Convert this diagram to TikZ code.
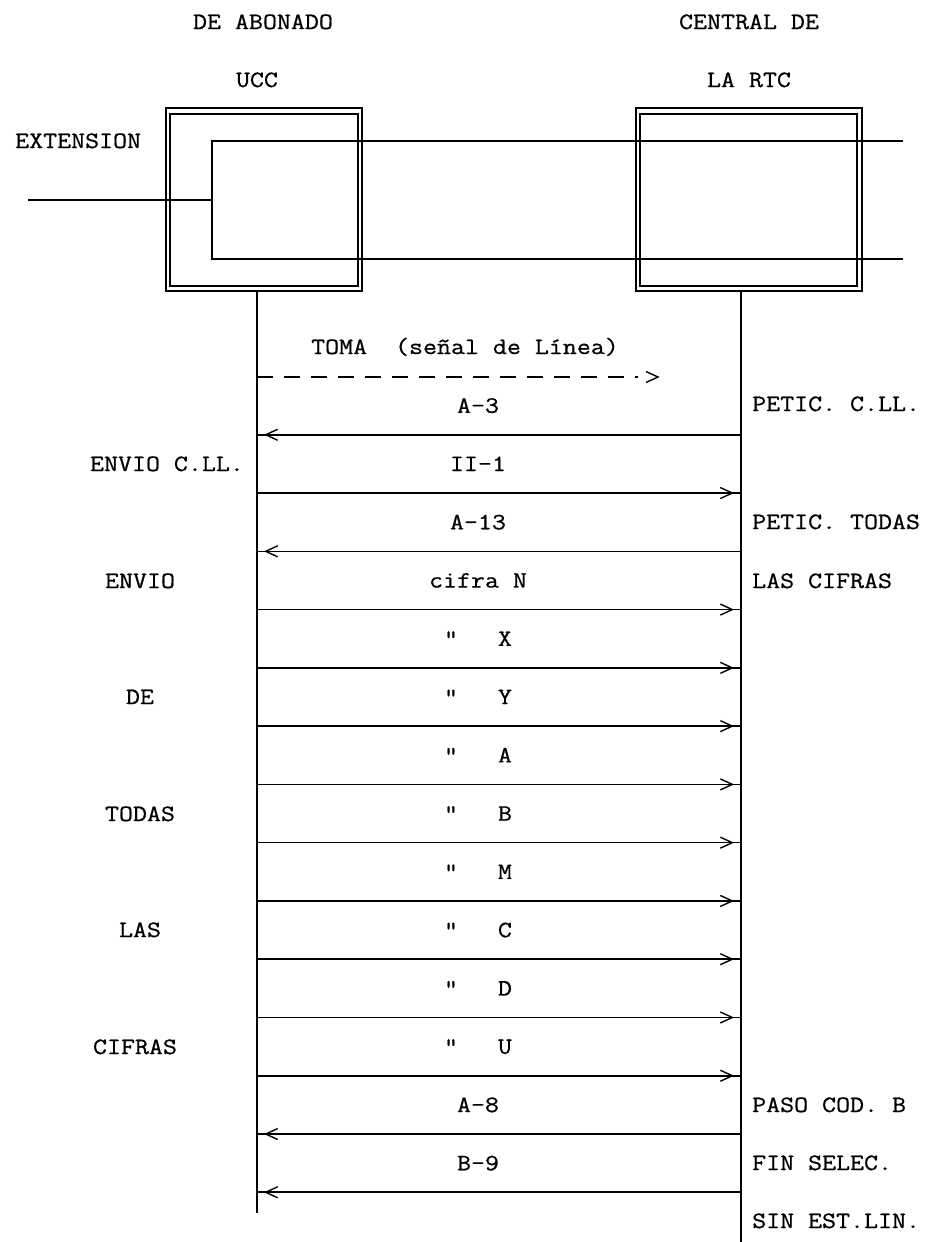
\documentclass[tikz,border=0pt]{standalone}
\usepackage{fontspec}
\setmonofont{Latin Modern Mono}[FakeStretch=1.16,FakeBold=0.7]
\usetikzlibrary{arrows.meta,decorations.markings}
\begin{document}
\begin{tikzpicture}[x=1bp,y=-1bp,
  font=\ttfamily\fontsize{23.5}{28}\selectfont,
  lbl/.style={inner sep=0pt, anchor=base},
  lbll/.style={inner sep=0pt, anchor=base west},
  boxline/.style={draw, line width=1.6bp, inner sep=0pt},
  life/.style={line width=2.2bp},
  wire/.style={line width=1.4bp},
  msg/.style={line width=1.6bp},
  arr/.style={msg, postaction={decorate},
    decoration={markings, mark=at position -7bp with {\arrow{Straight Barb[length=12bp,width=11bp,line width=1.4bp]}}}},
]
\useasboundingbox (0,0) rectangle (928,1242);

% headers
\node[lbl] (h1) at (263,29) {DE ABONADO};
\node[lbl] (h2) at (257,87) {UCC};
\node[lbl] (h3) at (749,29) {CENTRAL DE};
\node[lbl] (h4) at (749,87) {LA RTC};
\node[lbll] (ext) at (15,148) {EXTENSION};

% exchange boxes (double frame)
\node[boxline, minimum width=196bp, minimum height=183bp] (uccO) at (264,199.5) {};
\node[boxline, minimum width=188bp, minimum height=172bp] (uccI) at (264,200) {};
\node[boxline, minimum width=226bp, minimum height=183bp] (rtcO) at (749,199.5) {};
\node[boxline, minimum width=217bp, minimum height=172bp] (rtcI) at (748.5,200) {};

% through-connection wires
\coordinate (wA) at (28,200);
\coordinate (wB) at (212,200);
\coordinate (wT1) at (903,141);
\coordinate (wT2) at (212,141);
\coordinate (wB1) at (212,259);
\coordinate (wB2) at (903,259);
\draw[wire] (wA) -- (wB);
\draw[wire] (wT1) -- (wT2) -- (wB1) -- (wB2);

% lifelines
\coordinate (Ltop) at (257,291);
\coordinate (Lbot) at (257,1213);
\coordinate (Rtop) at (741,291);
\coordinate (Rbot) at (741,1242);
\draw[life] (Ltop) -- (Lbot);
\draw[life] (Rtop) -- (Rbot);

% TOMA (dashed)
\node[lbl] (toma) at (465,354) {TOMA\ \ (señal de Línea)};
\coordinate (L0) at (257,377);
\coordinate (T0) at (638,377);
\draw[msg, dash pattern=on 16bp off 11bp] (L0) -- (T0);
\coordinate (c1) at (646,371.5);
\coordinate (c2) at (658,377);
\coordinate (c3) at (646,382.5);
\draw[line width=1.4bp] (c1) -- (c2) -- (c3);

% message rows
\foreach \k/\txt/\dir in {1/A-3/l, 2/II-1/r, 3/A-13/l, 4/cifra N/r,
  5/{\textquotedbl\ \ \ X}/r, 6/{\textquotedbl\ \ \ Y}/r, 7/{\textquotedbl\ \ \ A}/r, 8/{\textquotedbl\ \ \ B}/r,
  9/{\textquotedbl\ \ \ M}/r, 10/{\textquotedbl\ \ \ C}/r, 11/{\textquotedbl\ \ \ D}/r, 12/{\textquotedbl\ \ \ U}/r,
  13/A-8/l, 14/B-9/l}{
  \pgfmathsetmacro{\ly}{346+58.27*\k}
  \pgfmathsetmacro{\my}{\ly+30.5}
  \coordinate (L\k) at (257,\my);
  \coordinate (R\k) at (741,\my);
  \node[lbl] (m\k) at (478,\ly+8.5) {\txt};
  \if\dir r
    \draw[arr] (L\k) -- (R\k);
  \else
    \draw[arr] (R\k) -- (L\k);
  \fi
}

% left-side labels
\node[lbl] (e1) at (167,471) {ENVIO C.LL.};
\node[lbl] (e2) at (140,588) {ENVIO};
\node[lbl] (e3) at (140,704) {DE};
\node[lbl] (e4) at (140,821) {TODAS};
\node[lbl] (e5) at (140,937) {LAS};
\node[lbl] (e6) at (135,1054) {CIFRAS};

% right-side labels
\node[lbll] (r1) at (752,411) {PETIC. C.LL.};
\node[lbll] (r2) at (752,529) {PETIC. TODAS};
\node[lbll] (r3) at (752,588) {LAS CIFRAS};
\node[lbll] (r4) at (752,1112) {PASO COD. B};
\node[lbll] (r5) at (752,1170) {FIN SELEC.};
\node[lbll] (r6) at (752,1228) {SIN EST.LIN.};
\end{tikzpicture}
\end{document}
